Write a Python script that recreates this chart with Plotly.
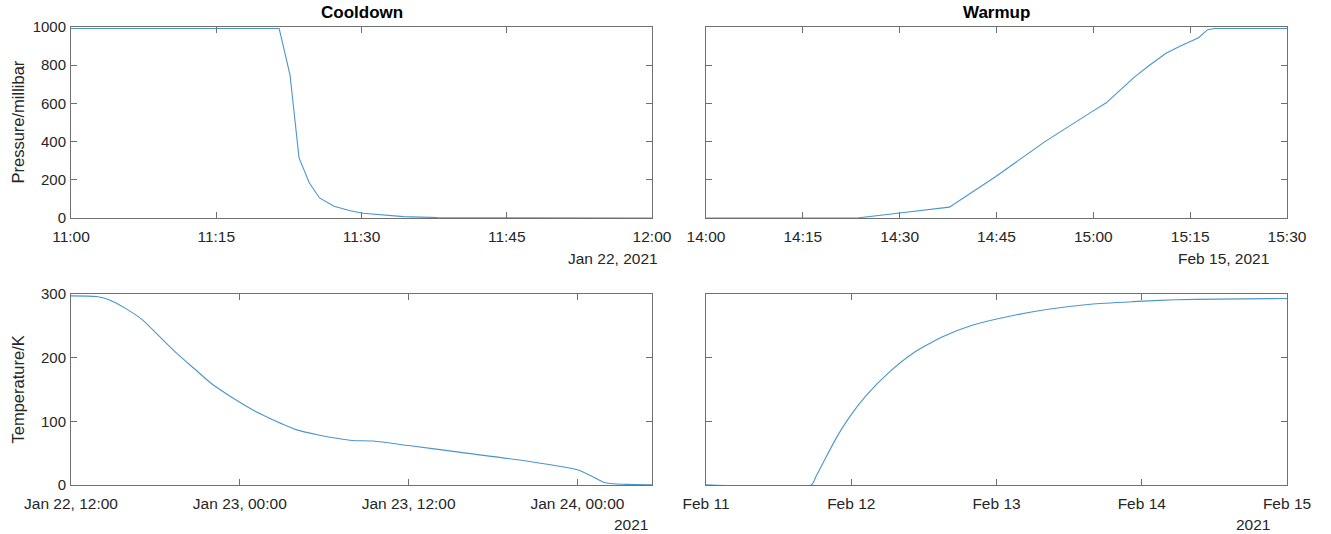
import plotly.graph_objects as go

# ---------------- data ----------------
cool_p_time = ["2021-01-22 11:00:00", "2021-01-22 11:21:30", "2021-01-22 11:22:37",
               "2021-01-22 11:23:33", "2021-01-22 11:24:37", "2021-01-22 11:25:40",
               "2021-01-22 11:27:10", "2021-01-22 11:28:50", "2021-01-22 11:30:10",
               "2021-01-22 11:32:20", "2021-01-22 11:34:20", "2021-01-22 11:37:50",
               "2021-01-22 12:00:00"]
cool_p_val = [992, 992, 750, 315, 183, 105, 61, 38, 25, 14, 7, 2, 0]

warm_p_time = ["2021-02-15 14:00:00", "2021-02-15 14:23:24", "2021-02-15 14:30:00",
               "2021-02-15 14:37:42", "2021-02-15 14:44:54", "2021-02-15 14:52:30",
               "2021-02-15 14:59:48", "2021-02-15 15:02:00", "2021-02-15 15:06:24",
               "2021-02-15 15:08:42", "2021-02-15 15:11:12", "2021-02-15 15:13:24",
               "2021-02-15 15:16:18", "2021-02-15 15:17:42", "2021-02-15 15:18:48",
               "2021-02-15 15:30:00"]
warm_p_val = [0, 0, 26, 57, 217, 400, 557, 603, 739, 800, 861, 899, 944, 986, 992, 992]

cool_t_time = ["2021-01-22 12:00", "2021-01-22 13:48", "2021-01-22 14:42", "2021-01-22 15:54",
               "2021-01-22 17:06", "2021-01-22 18:18", "2021-01-22 19:30", "2021-01-22 20:45",
               "2021-01-22 22:00", "2021-01-22 23:12", "2021-01-23 00:00", "2021-01-23 01:00",
               "2021-01-23 02:00", "2021-01-23 03:00", "2021-01-23 04:00", "2021-01-23 05:30",
               "2021-01-23 07:00", "2021-01-23 08:00", "2021-01-23 09:30", "2021-01-23 12:00",
               "2021-01-23 16:06", "2021-01-23 20:36", "2021-01-24 00:00", "2021-01-24 01:06",
               "2021-01-24 01:54", "2021-01-24 02:36", "2021-01-24 03:30", "2021-01-24 05:18"]
cool_t_val = [297, 296, 291, 277, 259, 233, 207, 183, 159, 141, 130, 117, 106, 96, 87, 79,
              73, 70, 69, 62, 50, 37, 24, 13, 4, 2, 1, 0.5]

warm_t_time = ["2021-02-11 00:00", "2021-02-11 17:27", "2021-02-11 18:09", "2021-02-11 19:34",
               "2021-02-11 21:39", "2021-02-11 23:44", "2021-02-12 02:31", "2021-02-12 06:01",
               "2021-02-12 10:12", "2021-02-12 15:06", "2021-02-12 19:59", "2021-02-13 01:34",
               "2021-02-13 08:33", "2021-02-13 15:32", "2021-02-13 22:31", "2021-02-14 05:30",
               "2021-02-14 12:29", "2021-02-15 00:00"]
warm_t_val = [0.5, 0.5, 13, 39, 76, 107, 141, 175, 207, 233, 251, 264, 276, 284, 288, 291,
              292, 293]

titles = ["Cooldown", "Warmup"]
ylabels = ["Pressure/millibar", "Temperature/K"]
date_labels = ["Jan 22, 2021", "Feb 15, 2021", "2021", "2021"]

# ---------------- figure ----------------
W, H = 1331, 534
LINE = "#4a96cb"
AX = "#707070"
TXT = "#262626"
FONT = "Liberation Sans"

def px_x(p):
    return p / W

def px_y(p):
    return 1 - p / H

left_dom = [px_x(71), px_x(652)]
right_dom = [px_x(706), px_x(1287)]
top_dom = [px_y(218), px_y(27)]
bot_dom = [px_y(485), px_y(294)]

fig = go.Figure()
fig.add_trace(go.Scatter(x=cool_p_time, y=cool_p_val, mode="lines",
                         line=dict(color=LINE, width=1.1), xaxis="x", yaxis="y"))
fig.add_trace(go.Scatter(x=warm_p_time, y=warm_p_val, mode="lines",
                         line=dict(color=LINE, width=1.1), xaxis="x2", yaxis="y2"))
fig.add_trace(go.Scatter(x=cool_t_time, y=cool_t_val, mode="lines", line_shape="spline",
                         line=dict(color=LINE, width=1.1, smoothing=0.6), xaxis="x3", yaxis="y3"))
fig.add_trace(go.Scatter(x=warm_t_time, y=warm_t_val, mode="lines", line_shape="spline",
                         line=dict(color=LINE, width=1.1, smoothing=0.6), xaxis="x4", yaxis="y4"))

common = dict(showgrid=False, zeroline=False, showline=True, linecolor=AX, linewidth=1,
              mirror="allticks", ticks="inside", ticklen=6, tickcolor=AX, tickwidth=1,
              automargin=False,
              tickfont=dict(family=FONT, size=15, color=TXT))
xcommon = dict(common, ticklabelstandoff=4, tickfont=dict(family=FONT, size=15.5, color=TXT))
ycommon = dict(common, ticklabelstandoff=1)

fig.update_layout(
    width=W, height=H, margin=dict(l=0, r=0, t=0, b=0, pad=0),
    paper_bgcolor="white", plot_bgcolor="white", showlegend=False,
    xaxis=dict(xcommon, domain=left_dom, anchor="y", type="date",
               range=["2021-01-22 11:00", "2021-01-22 12:00"],
               tick0="2021-01-22 11:00", dtick=15 * 60 * 1000, tickformat="%H:%M"),
    yaxis=dict(ycommon, domain=top_dom, anchor="x", range=[0, 1000], dtick=200),
    xaxis2=dict(xcommon, domain=right_dom, anchor="y2", type="date",
                range=["2021-02-15 14:00", "2021-02-15 15:30"],
                tick0="2021-02-15 14:00", dtick=15 * 60 * 1000, tickformat="%H:%M"),
    yaxis2=dict(ycommon, domain=top_dom, anchor="x2", range=[0, 1000], dtick=200,
                showticklabels=False),
    xaxis3=dict(xcommon, domain=left_dom, anchor="y3", type="date",
                range=["2021-01-22 12:00", "2021-01-24 05:18"],
                tick0="2021-01-22 12:00", dtick=12 * 3600 * 1000, tickformat="%b %d, %H:%M"),
    yaxis3=dict(ycommon, domain=bot_dom, anchor="x3", range=[0, 300], dtick=100),
    xaxis4=dict(xcommon, domain=right_dom, anchor="y4", type="date",
                range=["2021-02-11", "2021-02-15"],
                tick0="2021-02-11", dtick=24 * 3600 * 1000, tickformat="%b %d"),
    yaxis4=dict(ycommon, domain=bot_dom, anchor="x4", range=[0, 300], dtick=100,
                showticklabels=False),
)

ann = []
# titles
ann.append(dict(text="<b>%s</b>" % titles[0], x=(left_dom[0] + left_dom[1]) / 2, y=px_y(12),
                xref="paper", yref="paper", xanchor="center", yanchor="middle", showarrow=False,
                font=dict(family=FONT, size=17, color="#000000")))
ann.append(dict(text="<b>%s</b>" % titles[1], x=(right_dom[0] + right_dom[1]) / 2, y=px_y(12),
                xref="paper", yref="paper", xanchor="center", yanchor="middle", showarrow=False,
                font=dict(family=FONT, size=17, color="#000000")))
# y labels
ann.append(dict(text=ylabels[0], x=px_x(17), y=(top_dom[0] + top_dom[1]) / 2, textangle=-90,
                xref="paper", yref="paper", xanchor="center", yanchor="middle", showarrow=False,
                font=dict(family=FONT, size=16.5, color=TXT)))
ann.append(dict(text=ylabels[1], x=px_x(17), y=(bot_dom[0] + bot_dom[1]) / 2, textangle=-90,
                xref="paper", yref="paper", xanchor="center", yanchor="middle", showarrow=False,
                font=dict(family=FONT, size=16.5, color=TXT)))
# secondary date labels
sec_pos = [(660, 258), (1271, 258), (650, 524), (1272, 524)]
for lab, (px, py) in zip(date_labels, sec_pos):
    ann.append(dict(text=lab, x=px_x(px), y=px_y(py), xref="paper", yref="paper",
                    xanchor="right", yanchor="middle", showarrow=False,
                    font=dict(family=FONT, size=15.5, color=TXT)))
fig.update_layout(annotations=ann)

fig.write_html("out.html")
